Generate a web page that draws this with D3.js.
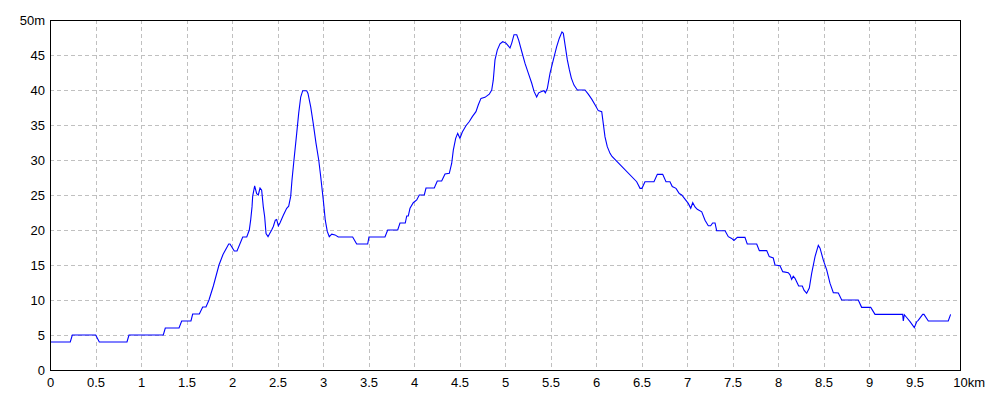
<!DOCTYPE html>
<html>
<head>
<meta charset="utf-8">
<script src="https://cdn.jsdelivr.net/npm/d3@7"></script>
<style>
  html, body { margin: 0; padding: 0; background: #fff; }
  svg { display: block; }
  text { font-family: "Liberation Sans", Arial, sans-serif; font-size: 13px; fill: #000; }
</style>
</head>
<body>
<svg id="chart" width="1000" height="400"></svg>
<script>
// distance along route (km)
const distanceKm = [
  0, 0.223, 0.245, 0.502, 0.542, 0.846, 0.868, 1.245, 1.267, 1.418,
  1.447, 1.549, 1.568, 1.641, 1.678, 1.714, 1.747, 1.795, 1.857, 1.901,
  1.964, 1.978, 2.025, 2.055, 2.118, 2.162, 2.190, 2.205, 2.220, 2.227,
  2.249, 2.271, 2.289, 2.308, 2.326, 2.344, 2.359, 2.374, 2.396, 2.410,
  2.436, 2.454, 2.476, 2.491, 2.509, 2.527, 2.564, 2.601, 2.623, 2.645,
  2.659, 2.681, 2.711, 2.733, 2.755, 2.777, 2.821, 2.835, 2.865, 2.893,
  2.923, 2.953, 2.975, 3.003, 3.025, 3.047, 3.069, 3.096, 3.132, 3.168,
  3.326, 3.370, 3.491, 3.505, 3.681, 3.711, 3.821, 3.846, 3.904, 3.920,
  3.937, 3.956, 3.992, 4.030, 4.058, 4.113, 4.132, 4.223, 4.256, 4.304,
  4.341, 4.388, 4.414, 4.432, 4.458, 4.480, 4.505, 4.531, 4.571, 4.608,
  4.641, 4.681, 4.707, 4.736, 4.780, 4.827, 4.854, 4.871, 4.890, 4.915,
  4.945, 4.975, 5.011, 5.036, 5.055, 5.074, 5.099, 5.129, 5.151, 5.184,
  5.220, 5.256, 5.293, 5.319, 5.348, 5.370, 5.403, 5.429, 5.443, 5.465,
  5.495, 5.531, 5.568, 5.597, 5.626, 5.641, 5.663, 5.685, 5.707, 5.729,
  5.758, 5.795, 5.879, 5.915, 5.953, 5.989, 6.025, 6.063, 6.080, 6.099,
  6.124, 6.154, 6.176, 6.447, 6.484, 6.505, 6.538, 6.637, 6.674, 6.733,
  6.769, 6.813, 6.838, 6.879, 6.915, 6.942, 6.978, 7.014, 7.041, 7.063,
  7.088, 7.113, 7.162, 7.198, 7.234, 7.260, 7.282, 7.308, 7.326, 7.418,
  7.454, 7.491, 7.516, 7.553, 7.637, 7.662, 7.766, 7.795, 7.876, 7.904,
  7.948, 7.967, 8.022, 8.052, 8.113, 8.132, 8.150, 8.168, 8.187, 8.205,
  8.227, 8.267, 8.286, 8.315, 8.344, 8.370, 8.407, 8.443, 8.462, 8.498,
  8.535, 8.571, 8.608, 8.663, 8.700, 8.882, 8.919, 9.019, 9.066, 9.370,
  9.377, 9.388, 9.414, 9.451, 9.498, 9.524, 9.541, 9.590, 9.604, 9.652,
  9.871, 9.897
];
// elevation (m)
const elevationM = [
  4, 4, 5, 5, 4, 4, 5, 5, 6, 6,
  7, 7, 8, 8, 9, 9, 10, 12, 15, 16.5,
  18, 18, 17, 17, 19, 19, 20, 21.4, 23.3, 24.8,
  26.3, 25.2, 25, 26, 25.7, 23.3, 21.9, 19.5, 19.05, 19.4,
  20, 20.5, 21.4, 21.5, 20.6, 21, 22.1, 23.1, 23.4, 24.8,
  27.1, 30, 33.8, 36.7, 39, 39.9, 39.9, 39.5, 37.6, 35.2,
  32.4, 30, 27.6, 24.3, 21.4, 19.8, 19.05, 19.4, 19.3, 19,
  19, 18, 18, 19, 19, 20, 20, 21, 21, 22,
  22, 23.1, 23.9, 24.3, 25, 25, 26, 26, 27, 27,
  28, 28.1, 29.5, 31.4, 33.1, 33.8, 33.1, 34, 34.9, 35.5,
  36.2, 36.9, 37.9, 38.8, 38.95, 39.4, 40, 41.4, 44.3, 45.7,
  46.6, 46.9, 46.7, 46.3, 46, 46.7, 47.9, 47.9, 47.1, 45.5,
  43.8, 42.4, 41, 39.8, 39, 39.6, 39.8, 39.9, 39.6, 40.2,
  42.4, 44.3, 46.2, 47.4, 48.3, 48.1, 46.2, 44.3, 42.9, 41.7,
  40.7, 40, 40, 39.4, 38.7, 37.9, 37.05, 36.9, 35.2, 33.3,
  31.9, 30.95, 30.5, 26.9, 25.95, 25.95, 26.9, 26.9, 27.95, 27.95,
  26.9, 26.9, 26.2, 25.95, 25.2, 25, 24.4, 23.8, 23.1, 23.9,
  23.3, 22.95, 22.6, 21.4, 20.6, 20.6, 21, 21, 19.9, 19.9,
  19.05, 18.8, 18.5, 18.95, 18.95, 18, 18, 17.05, 17.05, 16.2,
  16, 15, 14.9, 14.05, 13.9, 13.6, 12.95, 13.4, 13.1, 12.6,
  12, 12, 11.4, 10.95, 11.7, 13.8, 16.2, 17.8, 17.4, 15.7,
  14.3, 12.4, 11.05, 11, 10, 10, 8.95, 8.95, 7.95, 7.95,
  7, 7.9, 7.5, 6.9, 6.05, 6.9, 7.1, 7.95, 7.95, 7,
  7, 7.95
];
const xTickValues = [0, 0.5, 1, 1.5, 2, 2.5, 3, 3.5, 4, 4.5, 5, 5.5, 6, 6.5, 7, 7.5, 8, 8.5, 9, 9.5, 10];
const xTickLabels = ["0", "0.5", "1", "1.5", "2", "2.5", "3", "3.5", "4", "4.5", "5", "5.5", "6", "6.5", "7", "7.5", "8", "8.5", "9", "9.5", "10"];
const xUnit = "km";
const yTickValues = [0, 5, 10, 15, 20, 25, 30, 35, 40, 45, 50];
const yTickLabels = ["0", "5", "10", "15", "20", "25", "30", "35", "40", "45", "50m"];

const margin = { left: 50, top: 20, right: 40, bottom: 30 };
const W = 1000, H = 400;
const svg = d3.select("#chart");

const x = d3.scaleLinear().domain([0, 10]).range([margin.left, W - margin.right]);
const y = d3.scaleLinear().domain([0, 50]).range([H - margin.bottom, margin.top]);

// grid
const grid = svg.append("g").attr("shape-rendering", "crispEdges")
  .attr("stroke", "#c0c0c0").attr("stroke-width", 1).attr("stroke-dasharray", "4,3");
grid.selectAll("line.v").data(xTickValues.slice(1, -1)).join("line")
  .attr("x1", d => Math.round(x(d)) + 0.5).attr("x2", d => Math.round(x(d)) + 0.5)
  .attr("y1", y(50)).attr("y2", y(0));
grid.selectAll("line.h").data(yTickValues.slice(1, -1)).join("line")
  .attr("y1", d => Math.round(y(d)) + 0.5).attr("y2", d => Math.round(y(d)) + 0.5)
  .attr("x1", x(0)).attr("x2", x(10));

// line
const pts = distanceKm.map((d, i) => [d, elevationM[i]]);
svg.append("path")
  .datum(pts)
  .attr("fill", "none")
  .attr("stroke", "#0000ff")
  .attr("stroke-width", 1.1)
  .attr("d", d3.line().x(d => x(d[0])).y(d => y(d[1])));

// frame
svg.append("rect")
  .attr("x", x(0) + 0.5).attr("y", y(50) + 0.5)
  .attr("width", x(10) - x(0)).attr("height", y(0) - y(50))
  .attr("fill", "none").attr("stroke", "#000").attr("shape-rendering", "crispEdges");

// axes
const xAxis = svg.append("g").attr("transform", `translate(0,${y(0)})`)
  .call(d3.axisBottom(x).tickValues(xTickValues).tickSize(0).tickPadding(8)
    .tickFormat((d, i) => xTickLabels[i]));
xAxis.select(".domain").remove();
xAxis.selectAll("text").style("font-family", "'Liberation Sans', Arial, sans-serif").style("font-size", "13px").attr("fill", "#000");
// unit on last label: keep number centred on its tick, unit appended
xAxis.selectAll(".tick").filter((d, i) => i === xTickValues.length - 1).select("text")
  .each(function () {
    const t = d3.select(this);
    const w = this.getComputedTextLength();
    t.attr("text-anchor", "start").attr("x", -w / 2).append("tspan").text(xUnit);
  });

const yAxis = svg.append("g").attr("transform", `translate(${x(0)},0)`)
  .call(d3.axisLeft(y).tickValues(yTickValues).tickSize(0).tickPadding(5)
    .tickFormat((d, i) => yTickLabels[i]));
yAxis.select(".domain").remove();
yAxis.selectAll("text").style("font-family", "'Liberation Sans', Arial, sans-serif").style("font-size", "13px").attr("fill", "#000");
</script>
</body>
</html>
